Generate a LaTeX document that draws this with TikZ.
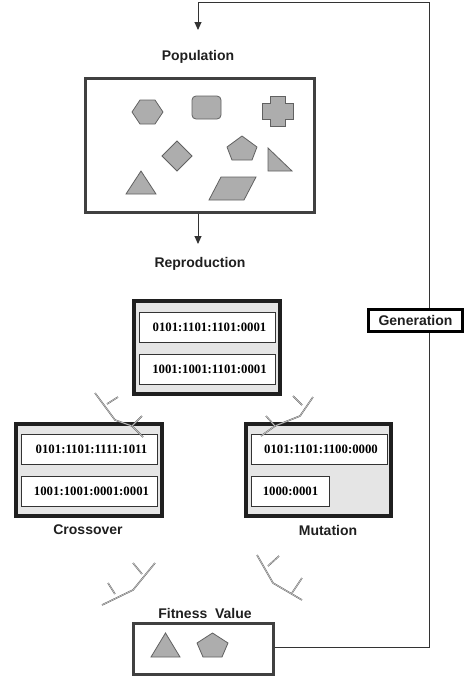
\documentclass[tikz,border=0pt]{standalone}
\usepackage{fontspec}
\setmainfont{Liberation Sans}
\newfontfamily\binfont{Liberation Serif}
\usetikzlibrary{arrows.meta}
\begin{document}
\begin{tikzpicture}[x=1pt,y=-1pt,
  lbl/.style={font=\fontsize{14}{16}\selectfont\bfseries, text=black!88, inner sep=0pt},
  bigbox/.style={draw=black!88, line width=3.6pt, fill=black!10, inner sep=0pt},
  popbox/.style={draw=black!75, line width=2.8pt, fill=white, inner sep=0pt},
  inbox/.style={draw=black!80, line width=0.9pt, fill=white, inner sep=0pt, minimum height=30pt},
  bin/.style={font=\binfont\fontsize{12.8}{14}\selectfont\bfseries, inner sep=0pt},
  blob/.style={draw=black!62, line width=0.8pt, fill=black!32},
  conn/.style={draw=black!80, line width=1pt},
  tip/.style={-{Triangle[length=8pt,width=7pt]}},
  zig/.style={draw=black!62, line width=0.45pt, double=white!80!black, double distance=0.6pt, line join=miter}
]
\useasboundingbox (0,0) rectangle (470,678);

% Population
\node[lbl] (poplabel) at (198,57) {Population};
\node[popbox, minimum width=229pt, minimum height=134pt] (pop) at (200,145.5) {};
\draw[blob] (132,112) -- (140,100) -- (155,100) -- (163,112) -- (155,124) -- (140,124) -- cycle;
\draw[blob, rounded corners=4pt] (192,96) rectangle (221,119);
\draw[blob] (270,96) -- (285,96) -- (285,103) -- (293,103) -- (293,119) -- (285,119) -- (285,126) -- (270,126) -- (270,119) -- (262,119) -- (262,103) -- (270,103) -- cycle;
\draw[blob] (162,156) -- (177,141) -- (192,156) -- (177,171) -- cycle;
\draw[blob] (242,136) -- (257,147) -- (252,160) -- (232,160) -- (227,147) -- cycle;
\draw[blob] (268,148) -- (268,171) -- (292,171) -- cycle;
\draw[blob] (141,171) -- (156,194) -- (126,194) -- cycle;
\draw[blob] (221,177) -- (256,177) -- (244,200) -- (209,200) -- cycle;

% Reproduction
\node[lbl] (replabel) at (200,264) {Reproduction};
\coordinate (reptop) at (198,244);
\draw[conn, tip] (pop.south -| reptop) -- (reptop);
\node[bigbox, minimum width=146pt, minimum height=93pt] (rep) at (207,347.5) {};
\node[inbox, minimum width=136pt] (rep1) at (207,327) {};
\node[bin] at (209.5,327) {0101:1101:1101:0001};
\node[inbox, minimum width=136pt] (rep2) at (207,369) {};
\node[bin] at (209.5,369) {1001:1001:1101:0001};

% Crossover
\node[bigbox, minimum width=146pt, minimum height=92pt] (cross) at (89,470) {};
\node[inbox, minimum width=136pt] (cross1) at (89,449) {};
\node[bin] at (91.5,449) {0101:1101:1111:1011};
\node[inbox, minimum width=136pt] (cross2) at (89,491) {};
\node[bin] at (91.5,491) {1001:1001:0001:0001};
\node[lbl] (crosslabel) at (88,530) {Crossover};

% Mutation
\node[bigbox, minimum width=145pt, minimum height=92pt] (mut) at (318.5,470) {};
\node[inbox, minimum width=136pt] (mut1) at (319,449) {};
\node[bin] at (321,449) {0101:1101:1100:0000};
\node[inbox, minimum width=78pt] (mut2) at (290,491) {};
\node[bin] at (290.5,491) {1000:0001};
\node[lbl] (mutlabel) at (328,530) {Mutation};

% zigzag arrows
\draw[zig] (95,393) -- (115,420) -- (132,426) -- (143,437);
\draw[zig] (107,404) -- (118,397);
\draw[zig] (132,426) -- (142,416);

\draw[zig] (313,397) -- (300,416) -- (275,426) -- (261,436);
\draw[zig] (302,405) -- (293,396);
\draw[zig] (275,426) -- (266,416);

\draw[zig] (155,563) -- (133,590) -- (102,605);
\draw[zig] (133,563) -- (142,574);
\draw[zig] (108,583) -- (115,594);

\draw[zig] (257,555) -- (273,583) -- (302,600);
\draw[zig] (268,566) -- (279,556);
\draw[zig] (292,593) -- (302,578);

% Fitness
\node[lbl] (fitlabel) at (205,613) {Fitness\ \ Value};
\node[popbox, minimum width=140pt, minimum height=51pt] (fit) at (203.5,649) {};
\draw[blob] (165.5,633) -- (180,657) -- (151,657) -- cycle;
\draw[blob] (212.5,633) -- (228,643) -- (222,657) -- (203,657) -- (197,643) -- cycle;

% Loop back
\coordinate (c1) at (429,647);
\coordinate (c2) at (429,2);
\coordinate (ret) at (198,30);
\draw[conn, line width=0.9pt, tip] (fit.east |- c1) -- (c1) -- (c2) -| (ret);
\node[draw=black, line width=2.8pt, fill=white, minimum width=94pt, minimum height=22pt, inner sep=0pt, font=\fontsize{14}{16}\selectfont\bfseries, text=black!88] (gen) at (415.5,320.5) {Generation};
\end{tikzpicture}
\end{document}
